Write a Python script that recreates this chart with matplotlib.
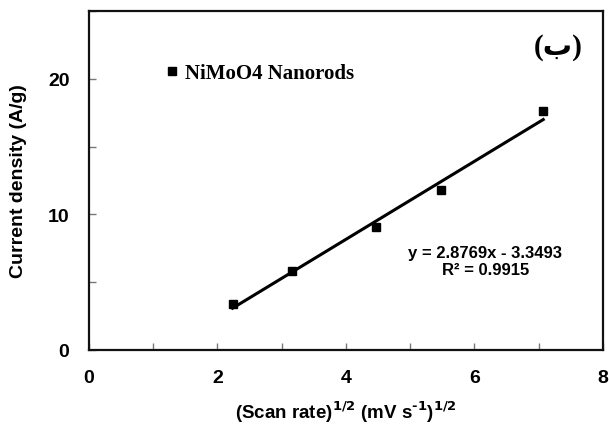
import numpy as np
import matplotlib.pyplot as plt
from matplotlib.ticker import MultipleLocator

# Data
scan_sqrt = [2.236, 3.162, 4.472, 5.477, 7.071]
current = [3.4, 5.8, 9.1, 11.8, 17.6]

# trend line shown on the chart
slope = 2.8769
intercept = -3.3493
fit_x = np.array([scan_sqrt[0], scan_sqrt[-1]])
fit_y = slope * fit_x + intercept

fig = plt.figure(figsize=(6.09, 4.27), dpi=100)
ax = fig.add_axes([0.146, 0.178, 0.844, 0.794])

ax.plot(fit_x, fit_y, color='black', lw=2.2, zorder=2)
ax.plot(scan_sqrt, current, 's', color='black', ms=6.3, zorder=3,
        label='NiMoO4 Nanorods')

ax.set_xlim(0, 8)
ax.set_ylim(0, 25)
ax.xaxis.set_major_locator(MultipleLocator(2))
ax.xaxis.set_minor_locator(MultipleLocator(1))
ax.yaxis.set_major_locator(MultipleLocator(10))
ax.yaxis.set_minor_locator(MultipleLocator(5))
ax.tick_params(which='both', direction='in', length=5, width=1, color='#777777')
ax.tick_params(axis='x', which='both', pad=14)
ax.tick_params(axis='y', which='both', pad=14)
for lab in ax.get_xticklabels() + ax.get_yticklabels():
    lab.set_fontfamily('Liberation Sans')
    lab.set_fontweight('bold')
    lab.set_fontsize(14)
for sp in ax.spines.values():
    sp.set_linewidth(1.6)
    sp.set_color('#111111')

ax.set_xlabel('(Scan rate)$^{\\mathbf{1/2}}$ (mV s$^{\\mathbf{\u2010}\\mathbf{1}}$)$^{\\mathbf{1/2}}$',
              fontfamily='Liberation Sans', fontweight='bold', fontsize=13.5, labelpad=9)
ax.set_ylabel('Current density (A/g)', fontfamily='Liberation Sans',
              fontweight='bold', fontsize=14, labelpad=15)

ax.legend(loc='center left', bbox_to_anchor=(0.134, 0.817), frameon=False,
          borderaxespad=0, handlelength=0.6, handletextpad=0.3, markerscale=0.9,
          prop={'family': 'Liberation Serif', 'weight': 'bold', 'size': 15})

ax.text(0.961, 0.894, '(\u0628)', transform=ax.transAxes, ha='right', va='center',
        family=['Liberation Serif', 'DejaVu Sans'], fontweight='bold', fontsize=21)

ax.text(0.771, 0.263, 'y = 2.8769x - 3.3493\nR\u00b2 = 0.9915', transform=ax.transAxes,
        ha='center', va='center', fontfamily='Liberation Sans', fontweight='bold',
        fontsize=12, linespacing=1.15)

fig.savefig('out.png', dpi=100)
